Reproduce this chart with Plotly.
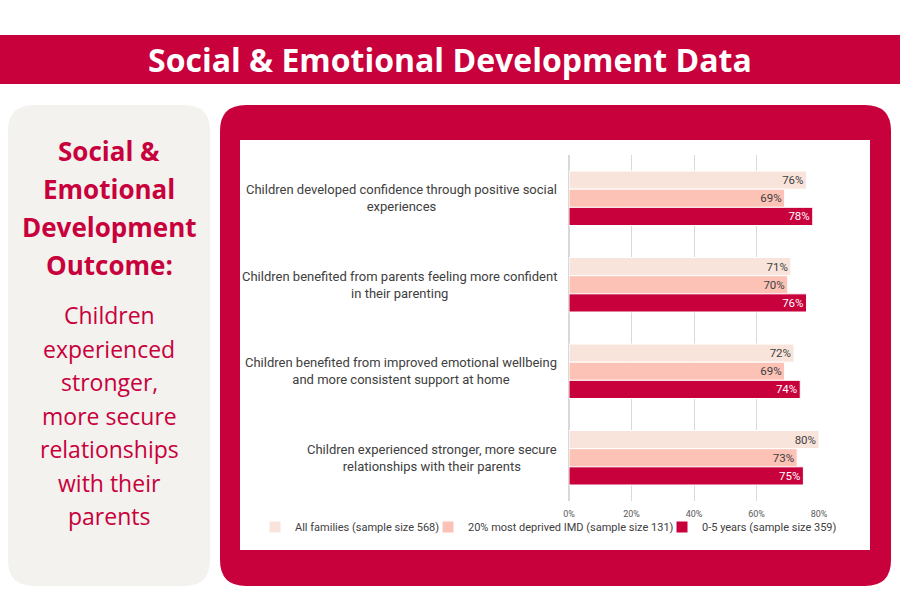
import plotly.graph_objects as go

# ---------------- data ----------------
categories = [
    "Children developed confidence through positive social<br>experiences",
    "Children benefited from parents feeling more confident<br>in their parenting",
    "Children benefited from improved emotional wellbeing<br>and more consistent support at home",
    "Children experienced stronger, more secure<br>relationships with their parents",
]
series_names = [
    "All families (sample size 568)",
    "20% most deprived IMD (sample size 131)",
    "0-5 years (sample size 359)",
]
all_families = [0.76, 0.71, 0.72, 0.80]
most_deprived = [0.69, 0.70, 0.69, 0.73]
age_0_5 = [0.78, 0.76, 0.74, 0.75]
x_ticks = [0, 0.2, 0.4, 0.6, 0.8]
x_tick_labels = ["0%", "20%", "40%", "60%", "80%"]

title_text = "Social & Emotional Development Data"
side_heading = ["Social &", "Emotional", "Development", "Outcome:"]
side_body = ["Children", "experienced", "stronger,", "more secure", "relationships", "with their", "parents"]

# ---------------- style ----------------
RED = "#c8003c"
LIGHT = "#f9e4dc"
MID = "#fcc2b6"
GREY_PANEL = "#f3f2ee"
TXT = "#404040"
W, H = 900, 600

colors = [LIGHT, MID, RED]
text_colors = [TXT, TXT, "white"]
series_values = [all_families, most_deprived, age_0_5]
legend_ids = ["legend", "legend2", "legend3"]

fig = go.Figure()
for name, vals, col, tcol, lid in zip(series_names, series_values, colors, text_colors, legend_ids):
    fig.add_trace(go.Bar(
        y=categories, x=vals, name=name, orientation="h",
        marker=dict(color=col, line=dict(color="white", width=1)),
        texttemplate="%{x:.0%}", textposition="inside", insidetextanchor="end",
        textfont=dict(color=tcol, size=11.5, family="Roboto"),
        constraintext="none", legend=lid, hoverinfo="skip",
    ))


def px(x):
    return x / W


def py(y):
    return 1 - y / H


def rounded_rect(x0, y0, x1, y1, r):
    pts = [
        f"M {px(x0 + r)} {py(y0)}",
        f"L {px(x1 - r)} {py(y0)}",
        f"Q {px(x1)} {py(y0)} {px(x1)} {py(y0 + r)}",
        f"L {px(x1)} {py(y1 - r)}",
        f"Q {px(x1)} {py(y1)} {px(x1 - r)} {py(y1)}",
        f"L {px(x0 + r)} {py(y1)}",
        f"Q {px(x0)} {py(y1)} {px(x0)} {py(y1 - r)}",
        f"L {px(x0)} {py(y0 + r)}",
        f"Q {px(x0)} {py(y0)} {px(x0 + r)} {py(y0)}",
        "Z",
    ]
    return " ".join(pts)


shapes = [
    dict(type="rect", xref="paper", yref="paper", x0=0, x1=1, y0=py(84), y1=py(35),
         fillcolor=RED, line=dict(width=0), layer="below"),
    dict(type="path", xref="paper", yref="paper", path=rounded_rect(8, 105, 210, 586, 26),
         fillcolor=GREY_PANEL, line=dict(width=0), layer="below"),
    dict(type="path", xref="paper", yref="paper", path=rounded_rect(220, 105, 891, 586, 26),
         fillcolor=RED, line=dict(width=0), layer="below"),
    dict(type="rect", xref="paper", yref="paper", x0=px(240), x1=px(870), y0=py(550), y1=py(140),
         fillcolor="white", line=dict(width=0), layer="below"),
]

annotations = [
    dict(text=f"<b>{title_text}</b>", x=0.5, y=py(60), xref="paper", yref="paper",
         showarrow=False, xanchor="center", yanchor="middle",
         font=dict(family="Open Sans", size=32, color="white")),
]
for i, line in enumerate(side_heading):
    annotations.append(dict(text=f"<b>{line}</b>", x=px(109), y=py(151 + 38 * i), xref="paper", yref="paper",
                            showarrow=False, xanchor="center", yanchor="middle",
                            font=dict(family="Open Sans", size=26, color=RED)))
for i, line in enumerate(side_body):
    annotations.append(dict(text=line, x=px(109), y=py(315 + 33.5 * i), xref="paper", yref="paper",
                            showarrow=False, xanchor="center", yanchor="middle",
                            font=dict(family="Open Sans", size=23, color=RED)))
for cat in categories:
    annotations.append(dict(text=cat, x=px(559), y=cat, xref="paper", yref="y",
                            showarrow=False, xanchor="right", yanchor="middle", align="center",
                            font=dict(family="Roboto", size=13, color=TXT)))

legend_common = dict(orientation="h", yanchor="middle", y=py(527), xanchor="left",
                     bgcolor="rgba(0,0,0,0)", font=dict(family="Roboto", size=11, color=TXT))

fig.update_layout(
    width=W, height=H, margin=dict(l=0, r=0, t=0, b=0, autoexpand=False),
    paper_bgcolor="white", plot_bgcolor="white",
    barmode="group", bargap=0.37, bargroupgap=0.0,
    shapes=shapes, annotations=annotations,
    xaxis=dict(domain=[px(569), px(819)], range=[0, 0.8], tickvals=x_ticks, ticktext=x_tick_labels,
               showgrid=True, gridcolor="#d9d9d9", gridwidth=1, zeroline=True, zerolinecolor="#d9d9d9",
               ticklabelstandoff=6,
               tickfont=dict(family="Roboto", size=9, color="#595959"), fixedrange=True),
    yaxis=dict(domain=[py(501), py(155)], autorange="reversed", showticklabels=False,
               showgrid=False, zeroline=False, fixedrange=True),
    legend=dict(legend_common, x=px(255)),
    legend2=dict(legend_common, x=px(428)),
    legend3=dict(legend_common, x=px(662)),
    showlegend=True,
)

fig.write_html("out.html")
